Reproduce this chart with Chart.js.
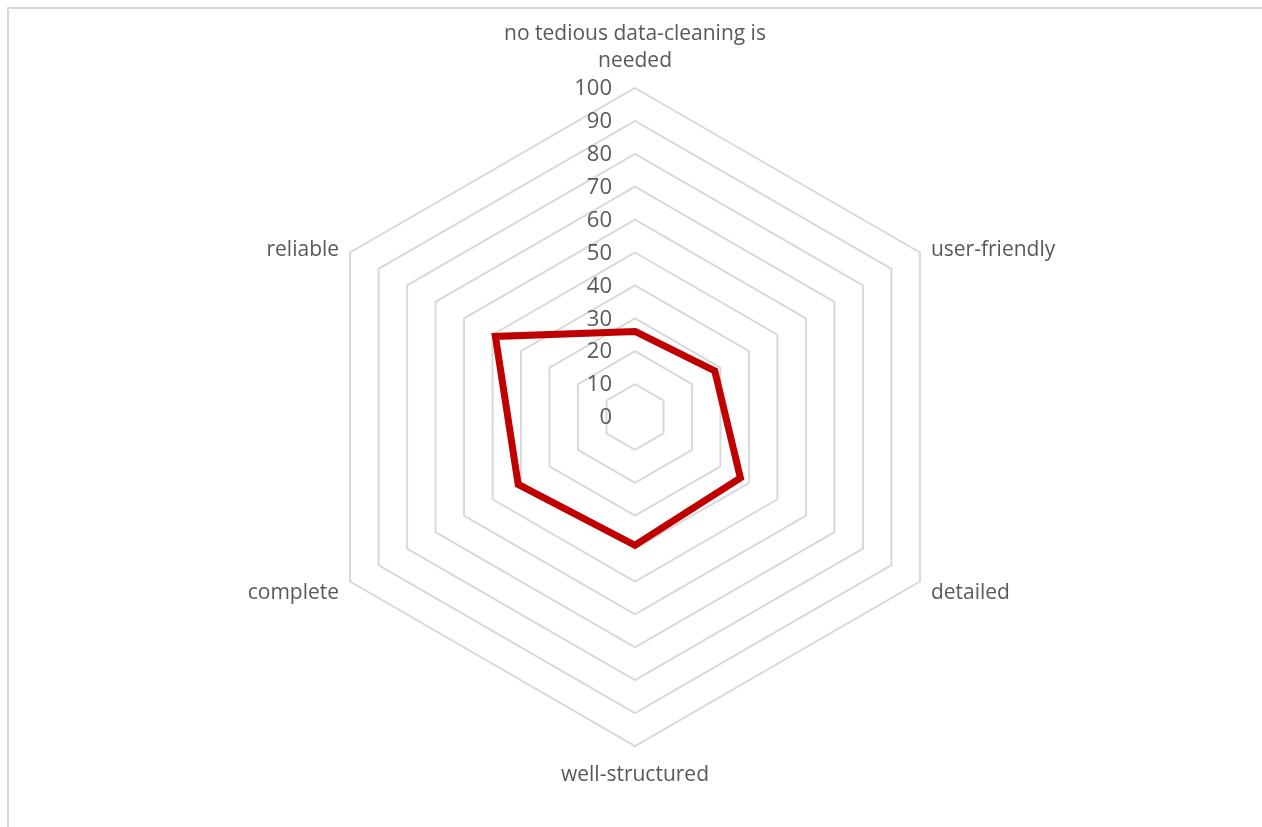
<!DOCTYPE html>
<html>
<head>
<meta charset="utf-8">
<script src="https://cdn.jsdelivr.net/npm/chart.js@4"></script>
<style>
  html, body { margin: 0; padding: 0; background: #fff; }
  body { width: 1262px; height: 827px; position: relative; overflow: hidden; }
  .frame { position: absolute; left: 7px; top: 7px; width: 1300px; height: 900px;
           border-top: 2px solid #d9d9d9; border-left: 2px solid #d9d9d9; }
  .wrap { position: absolute; left: 0; top: 0; width: 1262px; height: 827px; }
</style>
</head>
<body>
<div class="frame"></div>
<div class="wrap"><canvas id="radar"></canvas></div>
<script>
const categories = [
    ['no tedious data-cleaning is', 'needed'],
    'user-friendly',
    'detailed',
    'well-structured',
    'complete',
    'reliable'
];
const scores = [26, 28, 37, 39, 41, 49];
const tickValues = [0, 10, 20, 30, 40, 50, 60, 70, 80, 90, 100];

const textGrey = '#595959';
const labelFont = 'Open Sans';

// tick numbers right-aligned just left of the vertical axis,
// category names placed outside each corner of the outer ring
const radarText = {
    id: 'radarText',
    afterDatasetsDraw(chart) {
        const scale = chart.scales.r;
        const ctx = chart.ctx;
        ctx.save();
        ctx.fillStyle = textGrey;
        ctx.textBaseline = 'middle';

        ctx.font = '22px "' + labelFont + '"';
        ctx.textAlign = 'right';
        tickValues.forEach(v => {
            const d = scale.getDistanceFromCenterForValue(v);
            ctx.fillText(String(v), scale.xCenter - 23, scale.yCenter - d + 1);
        });

        ctx.font = '21px "' + labelFont + '"';
        const lineH = 27;
        categories.forEach((label, i) => {
            const lines = [].concat(label);
            const p = scale.getPointPosition(i, scale.drawingArea);
            const dx = p.x - scale.xCenter;
            const dy = p.y - scale.yCenter;
            let x = p.x, y;
            if (Math.abs(dx) < 1) {
                ctx.textAlign = 'center';
                // top label grows upwards, bottom label downwards
                y = dy < 0 ? p.y - 27 - lineH * (lines.length - 1) : p.y + 29;
            } else {
                ctx.textAlign = dx > 0 ? 'left' : 'right';
                x += dx > 0 ? 11 : -11;
                y = dy < 0 ? p.y - 2 : p.y + 12;
            }
            lines.forEach((t, k) => ctx.fillText(t, x, y + k * lineH));
        });
        ctx.restore();
    }
};

new Chart(document.getElementById('radar'), {
    type: 'radar',
    data: {
        labels: categories,
        datasets: [{
            data: scores,
            borderColor: '#c00000',
            borderWidth: 7,
            borderJoinStyle: 'miter',
            fill: false,
            pointRadius: 0,
            pointHoverRadius: 0,
            tension: 0
        }]
    },
    options: {
        responsive: true,
        maintainAspectRatio: false,
        animation: false,
        layout: { padding: { top: 88, bottom: 81, left: 8, right: 0 } },
        plugins: { legend: { display: false }, tooltip: { enabled: false } },
        scales: {
            r: {
                min: 0,
                max: 100,
                ticks: { stepSize: 10, display: false },
                angleLines: { display: false },
                grid: { color: '#d9d9d9', lineWidth: 2 },
                pointLabels: { display: false }
            }
        }
    },
    plugins: [radarText]
});
</script>
</body>
</html>
